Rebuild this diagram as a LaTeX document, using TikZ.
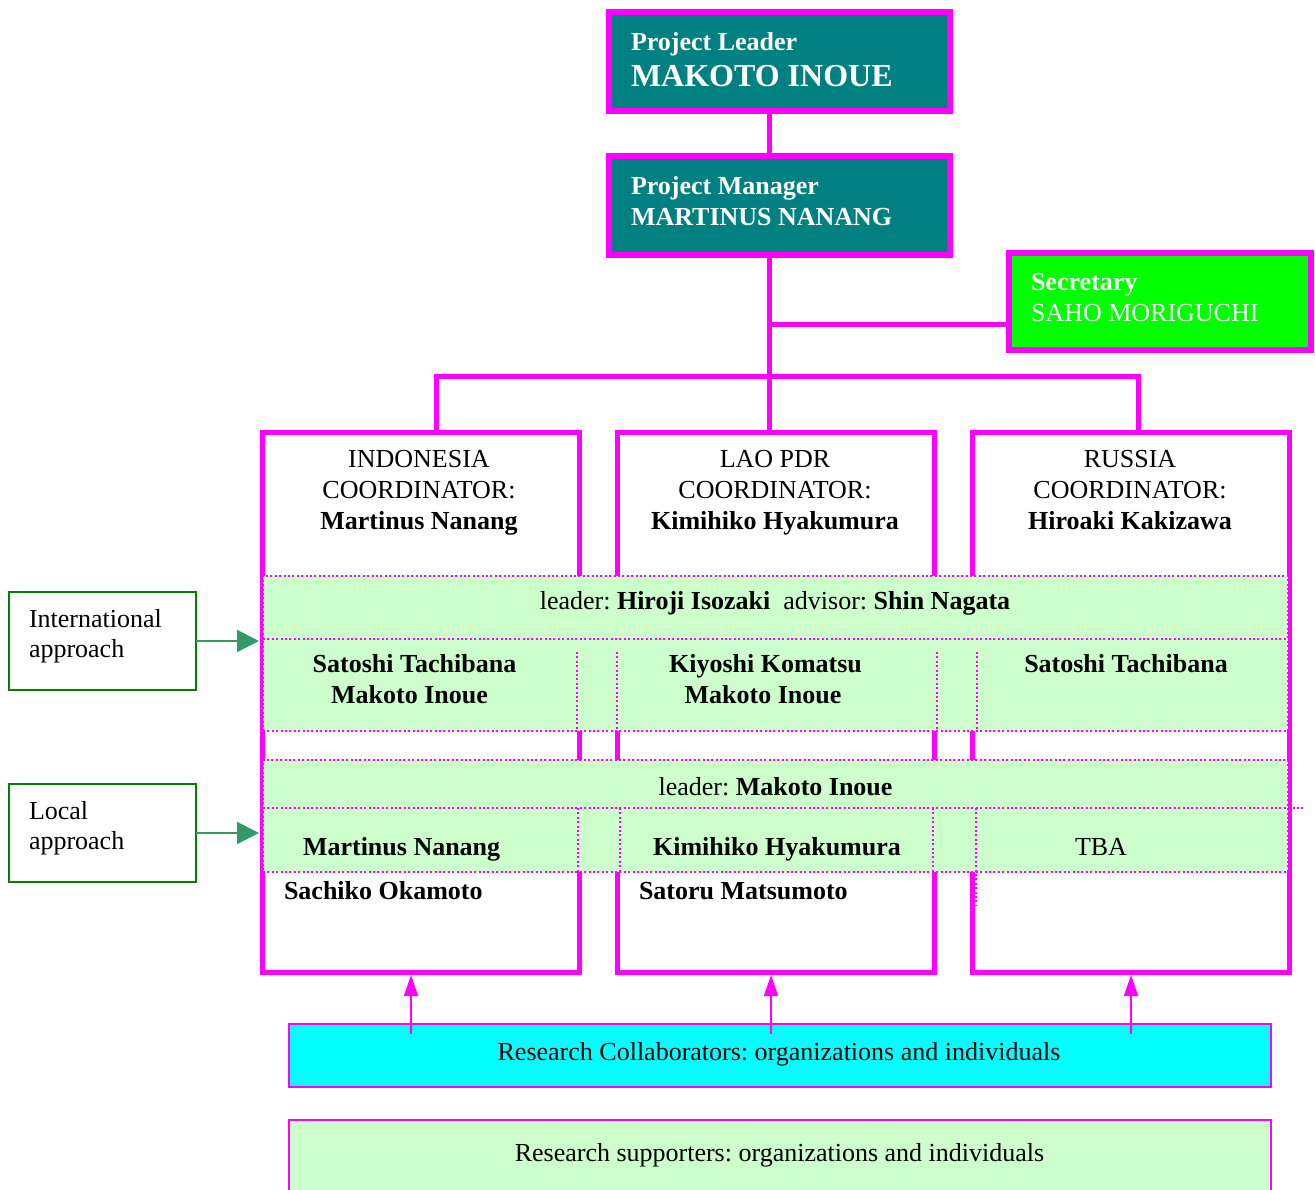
\documentclass[tikz,border=0pt]{standalone}
\usepackage{fontspec}
\setmainfont{Liberation Serif}
\usetikzlibrary{arrows.meta}
\definecolor{mag}{HTML}{FF00FF}
\definecolor{tealbox}{HTML}{008080}
\definecolor{secgreen}{HTML}{00FF00}
\definecolor{cyanbox}{HTML}{00FFFF}
\definecolor{lightgreen}{HTML}{CCFFCC}
\definecolor{apgreen}{HTML}{008000}
\definecolor{arrowgreen}{HTML}{339966}
\frenchspacing
\begin{document}
\begin{tikzpicture}[x=0.5pt,y=-0.5pt,
  every node/.style={inner sep=0pt, outer sep=0pt},
  headbox/.style={rectangle, draw=mag, line width=3pt, fill=tealbox, minimum width=170.5pt, minimum height=49.5pt},
  secbox/.style={rectangle, draw=mag, line width=3pt, fill=secgreen, minimum width=151pt, minimum height=48.5pt},
  countrybox/.style={rectangle, draw=mag, line width=2.5pt, minimum width=158.5pt, minimum height=270pt},
  band/.style={rectangle, draw=mag, line width=1pt, dash pattern=on 1pt off 1.2pt, fill=lightgreen, minimum width=512.5pt},
  apbox/.style={rectangle, draw=apgreen, line width=1pt, minimum width=93.5pt, minimum height=49pt},
  bottombox/.style={rectangle, draw=mag, line width=1.2pt, minimum width=491pt},
  conn/.style={draw=mag, line width=2.5pt},
  dotline/.style={draw=mag, line width=1pt, dash pattern=on 1pt off 1.2pt},
  aparrow/.style={draw=arrowgreen, line width=1pt, -{Triangle[length=11pt,width=11pt]}, shorten >=1.5pt},
  uparrow/.style={draw=mag, line width=1pt, -{Triangle[length=10.5pt,width=7pt]}, shorten >=1.5pt},
  txt/.style={font=\fontsize{13}{15}\selectfont, anchor=base},
  btxt/.style={font=\fontsize{13}{15}\selectfont\bfseries, anchor=base},
  wtxt/.style={font=\fontsize{13}{15}\selectfont\bfseries, text=white, anchor=base west},
  bigw/.style={font=\fontsize{16}{18}\selectfont\bfseries, text=white, anchor=base west}
]
\clip (0,0) rectangle (1315,1189);

% top boxes
\node[headbox] (leader) at (779.5,61.5) {};
\node[headbox] (manager) at (779.5,205) {};
\node[secbox] (secr) at (1160,301.5) {};
\node[wtxt] (leadt1) at (631,50) {Project Leader};
\node[bigw] (leadt2) at (631,86) {MAKOTO INOUE};
\node[wtxt] (mant1) at (631,194) {Project Manager};
\node[wtxt] (mant2) at (631,225) {MARTINUS NANANG};
\node[wtxt] (sect1) at (1031,290) {Secretary};
\node[wtxt, font=\fontsize{13}{15}\selectfont] (sect2) at (1031,321) {SAHO MORIGUCHI};

% country boxes
\node[countrybox] (indo) at (420.5,702) {};
\node[countrybox] (lao) at (775.5,702) {};
\node[countrybox] (russia) at (1130.5,702) {};

% connectors
\coordinate (trunk) at (769,0);
\coordinate (secjoin) at (769,324);
\coordinate (bl) at (436,376);
\coordinate (brr) at (1138,376);
\draw[conn] (leader.south -| trunk) -- (manager.north -| trunk);
\draw[conn] (manager.south -| trunk) -- (lao.north -| trunk);
\draw[conn] (secjoin) -- (secjoin -| secr.west);
\draw[conn] (indo.north -| bl) -- (bl) -- (brr) -- (russia.north -| brr);

% country headers
\node[txt] (i1) at (419,467) {INDONESIA};
\node[txt] (i2) at (419,498) {COORDINATOR:};
\node[btxt] (i3) at (419,529) {Martinus Nanang};
\node[txt] (l1) at (775,467) {LAO PDR};
\node[txt] (l2) at (775,498) {COORDINATOR:};
\node[btxt] (l3) at (775,529) {Kimihiko Hyakumura};
\node[txt] (r1) at (1130,467) {RUSSIA};
\node[txt] (r2) at (1130,498) {COORDINATOR:};
\node[btxt] (r3) at (1130,529) {Hiroaki Kakizawa};

% bands
\node[band, minimum height=77.5pt] (band1) at (775.5,653.5) {};
\node[band, minimum height=56pt] (band2) at (775.5,816) {};
\draw[dotline] (263,639) -- (1288,639);
\draw[dotline] (577,652) -- (577,731);
\draw[dotline] (617,652) -- (617,731);
\draw[dotline] (937,652) -- (937,731);
\draw[dotline] (977,652) -- (977,731);
\draw[dotline] (263,808) -- (1303,808);
\draw[dotline] (578,808) -- (578,872);
\draw[dotline] (620,808) -- (620,872);
\draw[dotline] (933,808) -- (933,872);
\draw[dotline] (976,808) -- (976,905);

% band texts
\node[txt] (b1t) at (775,609) {leader: \textbf{Hiroji Isozaki}\ \ advisor: \textbf{Shin Nagata}};
\node[btxt] (b1a) at (414.5,672) {Satoshi Tachibana};
\node[btxt] (b1b) at (409.5,703) {Makoto Inoue};
\node[btxt] (b1c) at (765.5,672) {Kiyoshi Komatsu};
\node[btxt] (b1d) at (763,703) {Makoto Inoue};
\node[btxt] (b1e) at (1126,672) {Satoshi Tachibana};
\node[txt] (b2t) at (775.5,795) {leader: \textbf{Makoto Inoue}};
\node[btxt, anchor=base west] (b2a) at (303,855) {Martinus Nanang};
\node[btxt] (b2b) at (777,855) {Kimihiko Hyakumura};
\node[txt] (b2c) at (1101,855) {TBA};
\node[btxt, anchor=base west] (so) at (284,899) {Sachiko Okamoto};
\node[btxt, anchor=base west] (sm) at (639,899) {Satoru Matsumoto};

% approach boxes
\node[apbox] (intl) at (102.5,641) {};
\node[apbox] (local) at (102.5,833) {};
\node[txt, anchor=base west] (intl1) at (29,627) {International};
\node[txt, anchor=base west] (intl2) at (29,657) {approach};
\node[txt, anchor=base west] (loc1) at (29,819) {Local};
\node[txt, anchor=base west] (loc2) at (29,849) {approach};
\draw[aparrow] (intl.east) -- (intl.east -| indo.west);
\draw[aparrow] (local.east) -- (local.east -| indo.west);

% bottom boxes
\node[bottombox, fill=cyanbox, minimum height=31.5pt] (collab) at (780,1055.5) {};
\node[bottombox, fill=lightgreen, minimum height=45pt] (support) at (780,1165) {};
\node[txt] (collabt) at (779,1060) {Research Collaborators: organizations and individuals};
\node[txt] (supportt) at (779.5,1161) {Research supporters: organizations and individuals};
\coordinate (a1) at (411,1034);
\coordinate (a2) at (771,1034);
\coordinate (a3) at (1131,1034);
\draw[uparrow] (a1) -- (indo.south -| a1);
\draw[uparrow] (a2) -- (lao.south -| a2);
\draw[uparrow] (a3) -- (russia.south -| a3);
\end{tikzpicture}
\end{document}
